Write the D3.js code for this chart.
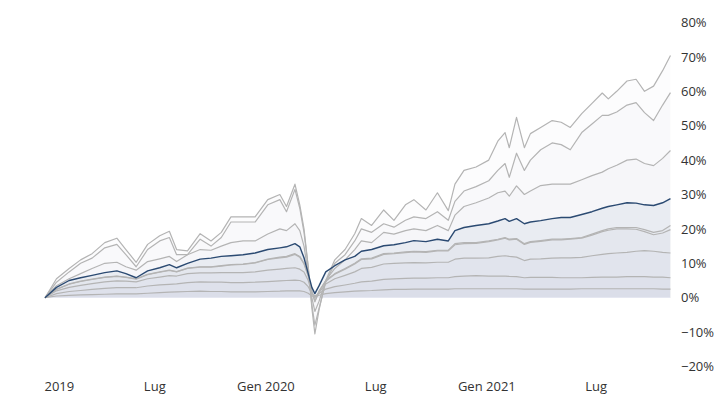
<!DOCTYPE html>
<html>
<head>
<meta charset="utf-8">
<script src="https://cdn.jsdelivr.net/npm/d3@7"></script>
<style>
  body { margin: 0; background: #fff; }
  #chart text { font-family: "Open Sans", sans-serif; font-size: 13px; fill: #333; }
</style>
</head>
<body>
<div id="chart"></div>
<script>
const dates = [
  "2019-01-01","2019-01-20","2019-02-10","2019-03-01","2019-03-20","2019-04-10","2019-04-30","2019-05-15",
  "2019-06-01","2019-06-20","2019-07-10","2019-07-26","2019-08-07","2019-08-25","2019-09-15","2019-10-03",
  "2019-10-20","2019-11-05","2019-11-25","2019-12-15","2020-01-05","2020-01-25","2020-02-05","2020-02-19",
  "2020-02-27","2020-03-05","2020-03-12","2020-03-18","2020-03-23","2020-03-30","2020-04-10","2020-04-25",
  "2020-05-12","2020-05-28","2020-06-08","2020-06-25","2020-07-15","2020-08-01","2020-08-20","2020-09-03",
  "2020-09-23","2020-10-12","2020-10-30","2020-11-10","2020-11-25","2020-12-15","2021-01-05","2021-01-20",
  "2021-02-01","2021-02-08","2021-02-20","2021-03-05","2021-03-15","2021-04-01","2021-04-20","2021-05-05",
  "2021-05-20","2021-06-08","2021-06-25","2021-07-12","2021-07-22","2021-08-05","2021-08-22","2021-09-06",
  "2021-09-20","2021-10-05","2021-10-20","2021-11-02"
];

const s1 = [0,5.5,8.5,11,12.8,16,17.3,14,10.3,15.5,18,19.3,14,13.6,18.6,16.5,19,23.5,23.5,23.5,28.5,30,26.5,33,
  27,20,9,-3,-10.5,-3.5,5,11,14,18.6,23,21,25.5,22.5,27,28.5,25.5,30.5,25.3,33,37,38,40,45.5,
  48,43.6,52.4,43.6,47.7,49.5,51.5,51,49.5,53.5,56.5,59.5,57.8,60,63,63.5,60,61.5,66,70.4];
const s2 = [0,4.5,7.5,10,11.5,14.5,15.5,12.5,9,14,16.5,17.5,12.5,12.5,17,15,17.5,22,22,22,27,28.5,25,31.5,
  26,19,9,-2,-8,-3,4.5,10,12.5,16.5,20,19,21.5,20.5,22.5,23.5,23,25,22.5,28,31,32.3,34,37,
  39,35,42,37,40,43,45,44.5,43,48,50.5,53,53,54,56,56.7,53.8,51.5,56,59.6];
const s3 = [0,3.5,5.5,7,8.5,10,10.3,9,8,10.5,11.3,12,10.5,12.5,14,13.8,15,16,16.5,16.5,18.5,20,19.5,21.5,
  19.5,15,7,0,-4,-1,5,8.5,11,14,16.5,16,19,18.5,19.5,20,19.5,21,19.5,24,26.5,27.6,29,30.5,
  31,29.5,32.5,30,31,32.6,33,33,33,34.3,35.5,36.5,37.5,38.5,40,40.3,39,38.4,40.5,42.8];
const navy = [0,3,5,5.8,6.5,7.3,7.8,7,5.8,7.8,8.7,9.6,8.7,10,11.2,11.5,12,12.2,12.5,13,14,14.5,14.8,15.7,
  14.8,11.6,7,3,1.2,3.5,7.5,9.3,11,12,13.5,14,15.1,15.4,16,16.6,16.3,17,16.5,19.5,20.4,21,21.5,22.3,
  23,22.2,23,21.5,22,22.4,23,23.3,23.3,24.2,25,26,26.5,27,27.6,27.5,27,26.8,27.6,28.8];
const g1 = [0,2.5,4,4.8,5.4,6,6.3,6,5.5,6.8,7.5,8,7.6,8.6,9,9,9.3,9.6,9.8,10.2,11.2,11.8,12,12.8,
  12,10,6.5,2,-1,2,5,7,8.5,10,11.3,11.5,12.8,13,13.3,13.5,13.4,13.8,13.8,15.7,16,16,16.5,17,
  17.5,17,17.2,15.7,16.3,16.6,17,17,17.2,17.5,18.5,19.5,20,20.4,20.4,20.4,19.8,19,19.5,21];
const g1b = [0,2.4,3.9,4.7,5.3,5.9,6.2,5.9,5.4,6.7,7.4,7.9,7.5,8.5,8.9,8.9,9.2,9.5,9.7,10.1,11.1,11.6,11.8,12.6,
  11.8,9.8,6.3,1.8,-1.2,1.8,4.8,6.8,8.3,9.8,11.1,11.3,12.6,12.8,13.1,13.3,13.2,13.6,13.6,15.4,15.7,15.8,16.3,16.8,
  17.3,16.8,17,15.5,16.1,16.4,16.8,16.8,17,17.3,18.2,19.2,19.6,20,20,19.9,19.2,18.3,18.8,19.8];
const g2 = [0,2,3,3.6,4.1,4.6,4.9,4.8,4.6,5.5,6,6.4,6.3,7,7.2,7.2,7.3,7.3,7.3,7.5,8,8.3,8.5,8.7,
  8.3,7.5,5,1.5,0,1.5,4,5.5,6.5,7.5,8.5,8.8,9.8,10,10.1,10.2,10.1,10.3,10.3,11.2,11.5,11.5,11.6,12,
  12.2,12,11.8,10.8,11.2,11.3,11.5,11.6,11.6,11.7,12.2,12.6,12.8,13,13.2,13.5,13.7,13.5,13.2,13];
const g3 = [0,1.2,1.8,2.1,2.4,2.7,2.9,2.9,2.9,3.4,3.7,3.9,4,4.4,4.6,4.5,4.5,4.4,4.4,4.5,4.7,4.9,5,5.1,
  5,4.5,3.2,1.2,0.5,1.2,2.5,3.2,3.7,4.2,4.6,4.8,5.3,5.5,5.6,5.7,5.7,5.8,5.8,6.1,6.3,6.4,6.3,6.3,
  6.3,6.2,6.1,5.8,5.9,5.9,5.9,5.8,5.8,5.8,5.9,6,6,6,6.1,6.1,6.1,6,6,5.8];
const g4 = [0,0.5,0.7,0.8,0.9,1,1.1,1.1,1.1,1.3,1.5,1.6,1.7,1.8,1.9,1.8,1.8,1.7,1.7,1.7,1.8,1.9,2,2,
  2,1.8,1.3,0.5,0.3,0.7,1.2,1.5,1.7,1.9,2,2.1,2.3,2.4,2.4,2.5,2.5,2.5,2.5,2.6,2.6,2.6,2.6,2.6,
  2.6,2.6,2.6,2.5,2.5,2.5,2.5,2.5,2.5,2.6,2.6,2.6,2.6,2.6,2.6,2.6,2.6,2.6,2.5,2.5];

const greySeries = [s1, s2, s3, g1, g1b, g2, g3, g4];

const xTickDates = ["2019-01-01","2019-07-01","2020-01-01","2020-07-01","2021-01-01","2021-07-01"];
const xTickLabels = ["2019","Lug","Gen 2020","Lug","Gen 2021","Lug"];
const yTicks = [-20,-10,0,10,20,30,40,50,60,70,80];

const width = 727, height = 399;
const parse = d3.timeParse("%Y-%m-%d");

const svg = d3.select("#chart").append("svg")
  .attr("width", width)
  .attr("height", height);

const x = d3.scaleTime()
  .domain([parse("2019-01-01"), parse("2022-01-01")])
  .range([45, 706.7]);

const y = d3.scaleLinear()
  .domain([-20, 80])
  .range([366.5, 22.5]);

const toPoints = (vals) => vals.map((v, i) => ({ date: parse(dates[i]), value: v }));

const area = d3.area()
  .x(d => x(d.date))
  .y0(y(0))
  .y1(d => y(d.value));

const line = d3.line()
  .x(d => x(d.date))
  .y(d => y(d.value));

// faint fills first, lines on top
const fills = svg.append("g");
greySeries.forEach(s => {
  fills.append("path")
    .datum(toPoints(s))
    .attr("d", area)
    .attr("fill", "#8a8f96")
    .attr("fill-opacity", 0.022);
});
fills.append("path")
  .datum(toPoints(navy))
  .attr("d", area)
  .attr("fill", "#5a7aaa")
  .attr("fill-opacity", 0.08);

const lines = svg.append("g").attr("fill", "none");
greySeries.forEach(s => {
  lines.append("path")
    .datum(toPoints(s))
    .attr("d", line)
    .attr("stroke", "#b4b4b4")
    .attr("stroke-width", 1.2)
    .attr("stroke-linejoin", "round");
});
lines.append("path")
  .datum(toPoints(navy))
  .attr("d", line)
  .attr("stroke", "#2b4a72")
  .attr("stroke-width", 1.4)
  .attr("stroke-linejoin", "round");

// x axis
const xAxis = svg.append("g")
  .attr("transform", "translate(0,370)")
  .call(d3.axisBottom(x)
    .tickValues(xTickDates.map(parse))
    .tickFormat((d, i) => xTickLabels[i])
    .tickSize(0)
    .tickPadding(12));
xAxis.select(".domain").remove();
xAxis.selectAll("text").filter((d, i) => i === 0).attr("text-anchor", "start").attr("dx", "-1");

// y axis
const yAxis = svg.append("g")
  .attr("transform", "translate(681,0)")
  .call(d3.axisRight(y)
    .tickValues(yTicks)
    .tickFormat(d => (d < 0 ? "\u2212" + Math.abs(d) : d) + "%")
    .tickSize(0)
    .tickPadding(0));
yAxis.select(".domain").remove();
</script>
</body>
</html>
